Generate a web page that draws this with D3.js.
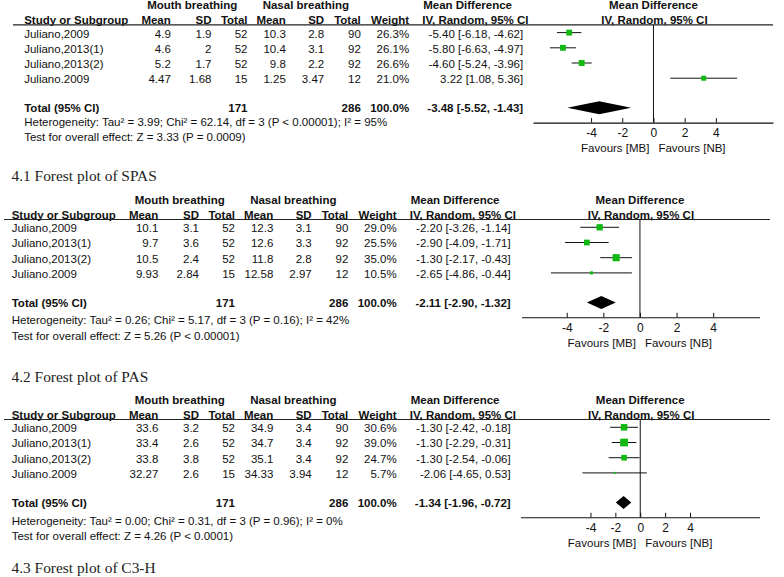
<!DOCTYPE html>
<html>
<head>
<meta charset="utf-8">
<script src="https://cdn.jsdelivr.net/npm/d3@7/dist/d3.min.js"></script>
<style>
  html, body { margin: 0; padding: 0; background: #fff; }
  svg { display: block; }
  text { font-family: "Liberation Sans", Arial, sans-serif; font-size: 11.5px; fill: #111; }
  .b { font-weight: bold; }
  .cap { font-family: "Liberation Serif", "Times New Roman", serif; font-size: 15.4px; fill: #222; }
</style>
</head>
<body>
<svg id="chart" width="784" height="577"></svg>
<script>
// ---------------- DATA ----------------
const studies = ["Juliano,2009", "Juliano,2013(1)", "Juliano,2013(2)", "Juliano.2009"];
const mouthTotal = [52, 52, 52, 15];
const nasalTotal = [90, 92, 92, 12];
const mouthSum = 171;
const nasalSum = 286;
const axisTicks = [-4, -2, 0, 2, 4];

// SPAS
const spasMouthMean = [4.9, 4.6, 5.2, 4.47];
const spasMouthSD = [1.9, 2, 1.7, 1.68];
const spasNasalMean = [10.3, 10.4, 9.8, 1.25];
const spasNasalSD = [2.8, 3.1, 2.2, 3.47];
const spasWeight = [26.3, 26.1, 26.6, 21.0];
const spasMD = [-5.40, -5.80, -4.60, 3.22];
const spasLow = [-6.18, -6.63, -5.24, 1.08];
const spasHigh = [-4.62, -4.97, -3.96, 5.36];
const spasPooled = [-3.48, -5.52, -1.43];
const spasHet = "Heterogeneity: Tau² = 3.99; Chi² = 62.14, df = 3 (P < 0.00001); I² = 95%";
const spasTest = "Test for overall effect: Z = 3.33 (P = 0.0009)";

// PAS
const pasMouthMean = [10.1, 9.7, 10.5, 9.93];
const pasMouthSD = [3.1, 3.6, 2.4, 2.84];
const pasNasalMean = [12.3, 12.6, 11.8, 12.58];
const pasNasalSD = [3.1, 3.3, 2.8, 2.97];
const pasWeight = [29.0, 25.5, 35.0, 10.5];
const pasMD = [-2.20, -2.90, -1.30, -2.65];
const pasLow = [-3.26, -4.09, -2.17, -4.86];
const pasHigh = [-1.14, -1.71, -0.43, -0.44];
const pasPooled = [-2.11, -2.90, -1.32];
const pasHet = "Heterogeneity: Tau² = 0.26; Chi² = 5.17, df = 3 (P = 0.16); I² = 42%";
const pasTest = "Test for overall effect: Z = 5.26 (P < 0.00001)";

// C3-H
const c3hMouthMean = [33.6, 33.4, 33.8, 32.27];
const c3hMouthSD = [3.2, 2.6, 3.8, 2.6];
const c3hNasalMean = [34.9, 34.7, 35.1, 34.33];
const c3hNasalSD = [3.4, 3.4, 3.4, 3.94];
const c3hWeight = [30.6, 39.0, 24.7, 5.7];
const c3hMD = [-1.30, -1.30, -1.30, -2.06];
const c3hLow = [-2.42, -2.29, -2.54, -4.65];
const c3hHigh = [-0.18, -0.31, -0.06, 0.53];
const c3hPooled = [-1.34, -1.96, -0.72];
const c3hHet = "Heterogeneity: Tau² = 0.00; Chi² = 0.31, df = 3 (P = 0.96); I² = 0%";
const c3hTest = "Test for overall effect: Z = 4.26 (P < 0.0001)";

const captions = ["4.1 Forest plot of SPAS", "4.2 Forest plot of PAS", "4.3 Forest plot of C3-H"];

// ---------------- LAYOUT ----------------
const panels = [
  { mm: spasMouthMean, ms: spasMouthSD, nm: spasNasalMean, ns: spasNasalSD, w: spasWeight,
    md: spasMD, lo: spasLow, hi: spasHigh, pooled: spasPooled, het: spasHet, test: spasTest,
    lineY: 24.8, dx: 12.5, lineX0: 13, lineX1: 773, domain: [-7.72, 7.66], range: [533, 773],
    hetDy: 96.8, testDy: 111.8, caption: captions[0], capY: 176 },
  { mm: pasMouthMean, ms: pasMouthSD, nm: pasNasalMean, ns: pasNasalSD, w: pasWeight,
    md: pasMD, lo: pasLow, hi: pasHigh, pooled: pasPooled, het: pasHet, test: pasTest,
    lineY: 219.5, dx: 0, lineX0: 4, lineX1: 770, domain: [-6.47, 6.53], range: [521.5, 759.5],
    hetDy: 100.8, testDy: 116.8, caption: captions[1], capY: 377 },
  { mm: c3hMouthMean, ms: c3hMouthSD, nm: c3hNasalMean, ns: c3hNasalSD, w: c3hWeight,
    md: c3hMD, lo: c3hLow, hi: c3hHigh, pooled: c3hPooled, het: c3hHet, test: c3hTest,
    lineY: 419.5, dx: 0, lineX0: 4, lineX1: 770, domain: [-9.62, 9.58], range: [520.5, 759.5],
    hetDy: 101.3, testDy: 116.8, caption: captions[2], capY: 568 }
];

// column right edges (panels 2/3 basis)
const col = { study: 11.7, mMean: 158.3, mSD: 199, mTot: 235, nMean: 273.3, nSD: 311.7, nTot: 348.3,
              weight: 396.7, ci: 510.7, mdHead: 410.7, mouthHead: 179.7, nasalHead: 293.3 };

const svg = d3.select("#chart");
const sizeScale = d3.scalePow().exponent(0.7).domain([0, 40]).range([0, 7.9]);
const fmt2 = d3.format(".2f");
const fmtMD = v => fmt2(v).replace("−", "-");
const ciText = (m, l, h) => `${fmtMD(m)} [${fmtMD(l)}, ${fmtMD(h)}]`;

panels.forEach(p => {
  const g = svg.append("g");
  const dx = p.dx;
  const L = p.lineY;
  const rowY = i => L + 8.6 + i * 15.2;
  const addText = (x, y, t, anchor, cls) =>
    g.append("text").attr("x", x).attr("y", y).attr("dy", "0.36em")
      .attr("text-anchor", anchor || "start").attr("class", cls || null).text(t);

  // headers
  addText(col.mouthHead + dx, L - 19.5, "Mouth breathing", "middle", "b");
  addText(col.nasalHead + dx, L - 19.5, "Nasal breathing", "middle", "b");
  addText(col.study + dx, L - 5, "Study or Subgroup", "start", "b");
  addText(col.mMean + dx, L - 5, "Mean", "end", "b");
  addText(col.mSD + dx, L - 5, "SD", "end", "b");
  addText(col.mTot + dx, L - 5, "Total", "end", "b");
  addText(col.nMean + dx, L - 5, "Mean", "end", "b");
  addText(col.nSD + dx, L - 5, "SD", "end", "b");
  addText(col.nTot + dx, L - 5, "Total", "end", "b");
  addText(col.weight + dx, L - 5, "Weight", "end", "b");
  addText(col.mdHead + dx, L - 19.5, "Mean Difference", "start", "b");
  addText(col.mdHead + dx - 1, L - 5, "IV, Random, 95% CI", "start", "b");

  const x = d3.scaleLinear().domain(p.domain).range(p.range);
  const zx = x(0);
  addText(zx, L - 19.5, "Mean Difference", "middle", "b");
  addText(zx + 1, L - 5, "IV, Random, 95% CI", "middle", "b");

  g.append("line").attr("x1", p.lineX0).attr("x2", p.lineX1).attr("y1", L).attr("y2", L)
    .attr("stroke", "#222").attr("stroke-width", 1.2);

  // rows
  studies.forEach((s, i) => {
    const y = rowY(i);
    addText(col.study + dx, y, s);
    addText(col.mMean + dx, y, String(p.mm[i]), "end");
    addText(col.mSD + dx, y, String(p.ms[i]), "end");
    addText(col.mTot + dx, y, String(mouthTotal[i]), "end");
    addText(col.nMean + dx, y, String(p.nm[i]), "end");
    addText(col.nSD + dx, y, String(p.ns[i]), "end");
    addText(col.nTot + dx, y, String(nasalTotal[i]), "end");
    addText(col.weight + dx, y, p.w[i].toFixed(1) + "%", "end");
    addText(col.ci + dx, y, ciText(p.md[i], p.lo[i], p.hi[i]), "end");
  });

  // total row
  const ty = L + 83.5;
  addText(col.study + dx, ty, "Total (95% CI)", "start", "b");
  addText(col.mTot + dx, ty, String(mouthSum), "end", "b");
  addText(col.nTot + dx, ty, String(nasalSum), "end", "b");
  addText(col.weight + dx, ty, "100.0%", "end", "b");
  addText(col.ci + dx, ty, ciText(p.pooled[0], p.pooled[1], p.pooled[2]), "end", "b");
  addText(col.study + dx, L + p.hetDy, p.het);
  addText(col.study + dx, L + p.testDy, p.test);

  // forest plot
  const axisY = L + 97.8;
  g.append("line").attr("x1", zx).attr("x2", zx).attr("y1", L).attr("y2", axisY)
    .attr("stroke", "#111").attr("stroke-width", 1);

  const rowsIdx = d3.range(studies.length);
  g.selectAll(".ci").data(rowsIdx).join("line")
    .attr("x1", i => x(p.lo[i])).attr("x2", i => x(p.hi[i]))
    .attr("y1", i => rowY(i) - 0.8).attr("y2", i => rowY(i) - 0.8)
    .attr("stroke", "#111").attr("stroke-width", 1);
  g.selectAll(".sq").data(rowsIdx).join("rect")
    .attr("x", i => x(p.md[i]) - sizeScale(p.w[i]) / 2)
    .attr("y", i => rowY(i) - 0.8 - sizeScale(p.w[i]) / 2)
    .attr("width", i => sizeScale(p.w[i])).attr("height", i => sizeScale(p.w[i]))
    .attr("fill", "#13b813");

  const dy = L + 83;
  const dia = [[x(p.pooled[1]), dy], [x(p.pooled[0]), dy - 6.5], [x(p.pooled[2]), dy], [x(p.pooled[0]), dy + 6.5]];
  g.append("path").attr("d", d3.line()(dia) + "Z").attr("fill", "#000");

  const ax = g.append("g").attr("transform", `translate(0,${axisY})`)
    .call(d3.axisBottom(x).tickValues(axisTicks).tickSize(-4.5).tickSizeOuter(0).tickPadding(6)
      .tickFormat(d => String(d)));
  ax.select(".domain").attr("stroke", "#111").attr("stroke-width", 1.1);
  ax.selectAll(".tick line").attr("stroke", "#111");
  ax.selectAll(".tick text").style("font-family", '"Liberation Sans", Arial, sans-serif')
    .style("font-size", "12px").attr("fill", "#111");
  ax.attr("font-size", null).attr("font-family", null);

  addText(zx - 4, L + 123, "Favours [MB]", "end");
  addText(zx + 5, L + 123, "Favours [NB]", "start");

  // caption
  svg.append("text").attr("class", "cap").attr("x", 11.5).attr("y", p.capY).attr("dy", "0.35em").text(p.caption);
});
</script>
</body>
</html>
